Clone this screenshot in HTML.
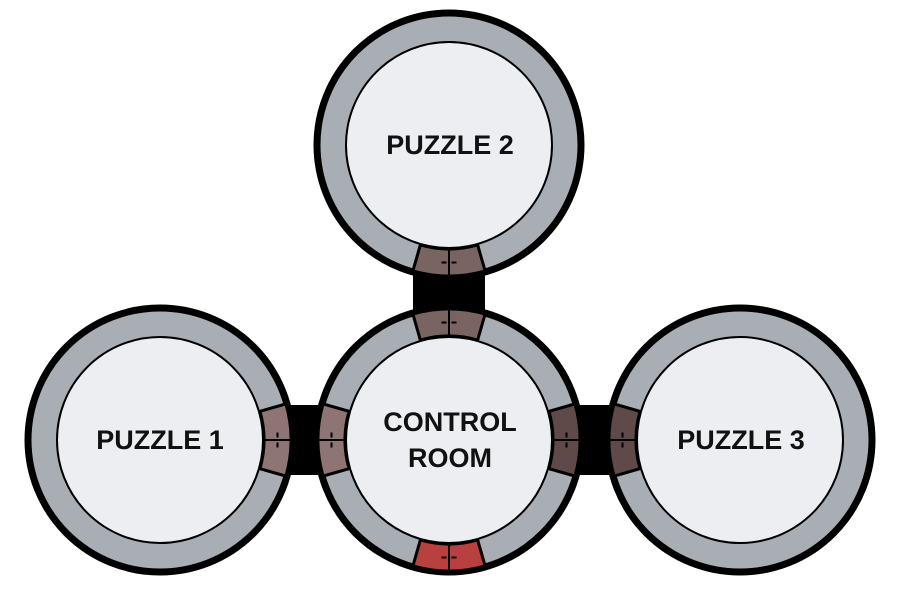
<!DOCTYPE html>
<html><head><meta charset="utf-8"><style>
html,body{margin:0;padding:0;background:#fff;width:900px;height:600px;overflow:hidden}
text{font-family:"Liberation Sans",sans-serif;font-weight:bold;font-size:27px;fill:#111}
</style></head><body>
<svg id="s" width="900" height="600" viewBox="0 0 900 600">
<rect x="413" y="270" width="72" height="45" fill="#000"/>
<rect x="283" y="405" width="42" height="70" fill="#000"/>
<rect x="575" y="405" width="42" height="70" fill="#000"/>
<g id="rooms"></g>
<g id="doors"></g>
<g id="labels">
<text x="450" y="154" text-anchor="middle">PUZZLE 2</text>
<text x="160" y="449" text-anchor="middle">PUZZLE 1</text>
<text x="741" y="449" text-anchor="middle">PUZZLE 3</text>
<text x="450" y="431" text-anchor="middle">CONTROL</text>
<text x="450" y="467" text-anchor="middle">ROOM</text>
</g>
</svg>
<script>
const NS="http://www.w3.org/2000/svg";
const roomNames=["puzzle-2","control-room","puzzle-1","puzzle-3"];
const roomCx=[449,449,160,740];
const roomCy=[145,440,440,440];
const R=132, RI=103;
const rooms=document.getElementById('rooms');
roomNames.forEach((n,i)=>{
  const g=document.createElementNS(NS,'g');
  
  
  const o=document.createElementNS(NS,'circle');
  o.setAttribute('cx',roomCx[i]);o.setAttribute('cy',roomCy[i]);o.setAttribute('r',R);
  o.setAttribute('fill','#a9aeb5');o.setAttribute('stroke','#000');o.setAttribute('stroke-width','7');
  const c=document.createElementNS(NS,'circle');
  c.setAttribute('cx',roomCx[i]);c.setAttribute('cy',roomCy[i]);c.setAttribute('r',RI);
  c.setAttribute('fill','#eceef2');c.setAttribute('stroke','#000');c.setAttribute('stroke-width','2');
  g.appendChild(o);g.appendChild(c);rooms.appendChild(g);
});
const doorRoom=[0,1,2,1,1,3,1];
const doorAngle=[90,270,0,180,0,180,90];
const doorColor=["#7a6462","#7a6462","#8e7472","#8e7472","#5f4a49","#5f4a49","#b8403f"];
const doors=document.getElementById('doors');
function pt(cx,cy,r,a){const t=a*Math.PI/180;return [cx+r*Math.cos(t),cy+r*Math.sin(t)];}
doorRoom.forEach((ri,i)=>{
  const cx=roomCx[ri],cy=roomCy[ri],a=doorAngle[i],h=16;
  const r1=RI+1,r2=R-1;
  const p1=pt(cx,cy,r1,a-h),p2=pt(cx,cy,r2,a-h),p3=pt(cx,cy,r2,a+h),p4=pt(cx,cy,r1,a+h);
  const g=document.createElementNS(NS,'g');
  
  
  const p=document.createElementNS(NS,'path');
  p.setAttribute('d',`M${p1} L${p2} A${r2},${r2} 0 0 1 ${p3} L${p4} A${r1},${r1} 0 0 0 ${p1}Z`);
  p.setAttribute('fill',doorColor[i]);p.setAttribute('stroke','#000');p.setAttribute('stroke-width','3');
  g.appendChild(p);
  const m1=pt(cx,cy,r1,a),m2=pt(cx,cy,r2,a);
  const l=document.createElementNS(NS,'line');
  l.setAttribute('x1',m1[0]);l.setAttribute('y1',m1[1]);l.setAttribute('x2',m2[0]);l.setAttribute('y2',m2[1]);
  l.setAttribute('stroke','#000');l.setAttribute('stroke-width','2');
  g.appendChild(l);
  const rm=(r1+r2)/2, t=a*Math.PI/180;
  const ux=Math.cos(t),uy=Math.sin(t),vx=-uy,vy=ux;
  [-1,1].forEach(sd=>{
    const hx=cx+rm*ux+sd*5*vx, hy=cy+rm*uy+sd*5*vy;
    const hl=document.createElementNS(NS,'line');
    hl.setAttribute('x1',hx-vx*2.5);hl.setAttribute('y1',hy-vy*2.5);
    hl.setAttribute('x2',hx+vx*2.5);hl.setAttribute('y2',hy+vy*2.5);
    hl.setAttribute('stroke','#000');hl.setAttribute('stroke-width','2');
    g.appendChild(hl);
  });
  doors.appendChild(g);
});
</script>
</body></html>
